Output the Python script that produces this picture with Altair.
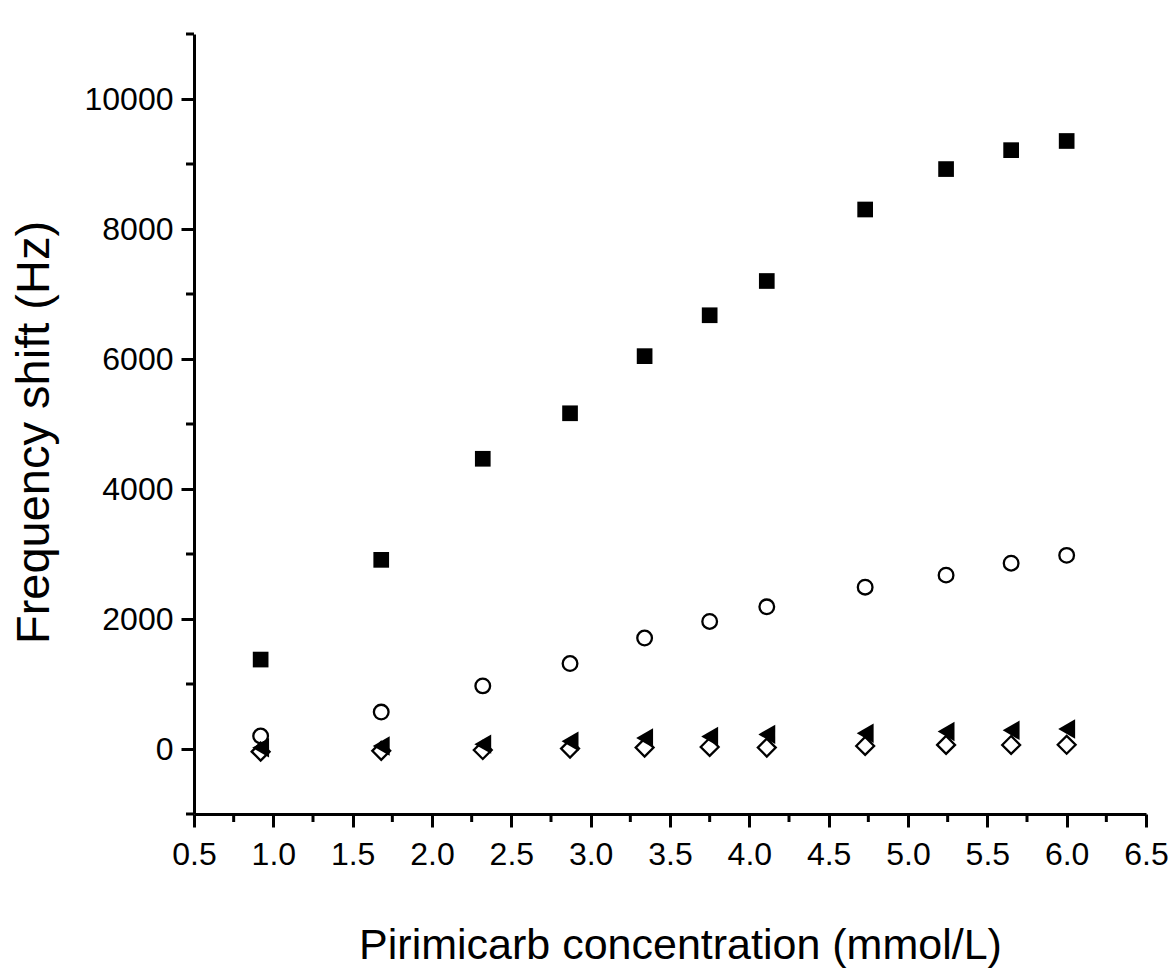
import altair as alt
import pandas as pd

# Pirimicarb concentration (mmol/L), shared by all four series
conc = [0.92, 1.68, 2.32, 2.87, 3.34, 3.75, 4.11, 4.73, 5.24, 5.65, 6.00]

# Frequency shift (Hz)
squares = [1376, 2910, 4465, 5165, 6044, 6673, 7200, 8300, 8922, 9213, 9354]
circles = [200, 568, 971, 1315, 1707, 1962, 2187, 2490, 2675, 2858, 2979]
triangles = [19, 48, 75, 120, 170, 194, 225, 242, 268, 287, 306]
diamonds = [-41, -28, -16, 6, 22, 31, 22, 47, 63, 62, 65]

x_major = [0.5, 1.0, 1.5, 2.0, 2.5, 3.0, 3.5, 4.0, 4.5, 5.0, 5.5, 6.0, 6.5]
x_minor = [0.75, 1.25, 1.75, 2.25, 2.75, 3.25, 3.75, 4.25, 4.75, 5.25, 5.75, 6.25]
y_major = [0, 2000, 4000, 6000, 8000, 10000]
y_minor = [-1000, 1000, 3000, 5000, 7000, 9000, 11000]

series = {"sq": squares, "ci": circles, "tr": triangles, "di": diamonds}
rows = []
for name, vals in series.items():
    for c, v in zip(conc, vals):
        rows.append({"s": name, "c": c, "f": v})
df = pd.DataFrame(rows)

FONT = "Liberation Sans"
W, H = 952, 780
LEFT, TOP = 194, 34

xs = alt.Scale(domain=[0.5, 6.5], nice=False, zero=False)
ys = alt.Scale(domain=[-1000, 11000], nice=False, zero=False)

xaxis = alt.Axis(
    values=x_major, format=".1f", title="Pirimicarb concentration (mmol/L)",
    grid=False, domainColor="black", domainWidth=3, tickColor="black",
    tickWidth=3, tickSize=13, labelFont=FONT, labelFontSize=32,
    labelColor="black", labelPadding=12, labelFlush=False, labelOverlap=False,
    titleFont=FONT, titleFontSize=43, titleFontWeight="normal",
    titleColor="black", titleY=131, titleX=(680 - LEFT),
    titleAlign="center", titleBaseline="middle",
)
yaxis = alt.Axis(
    values=y_major, format="d", title="Frequency shift (Hz)",
    grid=False, domainColor="black", domainWidth=3, tickColor="black",
    tickWidth=3, tickSize=13, labelFont=FONT, labelFontSize=32,
    labelColor="black", labelPadding=8, labelFlush=False, labelOverlap=False,
    titleFont=FONT, titleFontSize=47, titleFontWeight="normal",
    titleColor="black", titleX=(34 - LEFT), titleY=(432 - TOP),
    titleAlign="center", titleBaseline="middle", titleAngle=270,
)

X = alt.X("c:Q", scale=xs, axis=xaxis)
Y = alt.Y("f:Q", scale=ys, axis=yaxis)

base = alt.Chart(df)

sq_layer = base.transform_filter("datum.s == 'sq'").mark_point(
    shape="square", filled=True, color="black", size=246, opacity=1
).encode(x=X, y=Y)

ci_layer = base.transform_filter("datum.s == 'ci'").mark_point(
    shape="circle", filled=True, fill="white", stroke="black",
    strokeWidth=2.3, size=215, opacity=1
).encode(x=X, y=Y)

di_layer = base.transform_filter("datum.s == 'di'").mark_point(
    shape="diamond", filled=True, fill="white", stroke="black",
    strokeWidth=2.3, size=320, opacity=1
).encode(x=X, y=Y)

tr_layer = base.transform_filter("datum.s == 'tr'").mark_point(
    shape="triangle-left", filled=True, color="black", size=380, opacity=1
).encode(x=X, y=Y)

ymin_df = pd.DataFrame({"f": y_minor})
xmin_df = pd.DataFrame({"c": x_minor})

ymin_layer = alt.Chart(ymin_df).mark_rule(color="black", strokeWidth=3).encode(
    y=Y, x=alt.value(0), x2=alt.value(-8)
)
xmin_layer = alt.Chart(xmin_df).mark_rule(color="black", strokeWidth=3).encode(
    x=X, y=alt.value(H), y2=alt.value(H + 8)
)

chart = alt.layer(
    sq_layer, ci_layer, di_layer, tr_layer, ymin_layer, xmin_layer
).properties(
    width=W, height=H,
    autosize=alt.AutoSizeParams(type="none"),
    padding={"left": LEFT, "top": TOP, "right": 1173 - LEFT - W,
             "bottom": 971 - TOP - H},
    background="white",
).configure_view(stroke=None)

chart.save("out.html", embed_options={"renderer": "svg", "actions": False})
